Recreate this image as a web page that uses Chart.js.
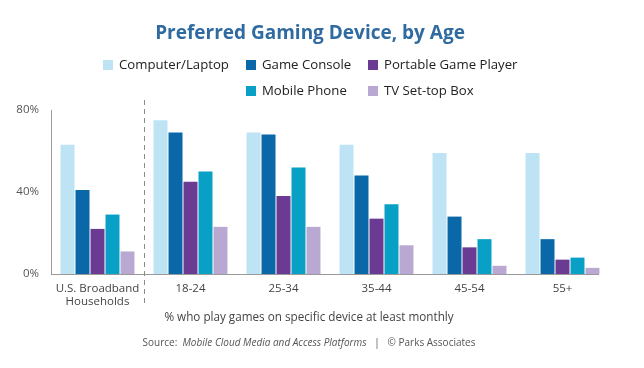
<!DOCTYPE html>
<html>
<head>
<meta charset="utf-8">
<script src="https://cdn.jsdelivr.net/npm/chart.js@4"></script>
<style>
  html, body { margin: 0; padding: 0; background: #fff; }
  #wrap { width: 644px; height: 368px; }
</style>
</head>
<body>
<div id="wrap"><canvas id="chart" width="644" height="368"></canvas></div>
<script>
// data (percent of each group)
const categories = [["U.S. Broadband", "Households"], "18-24", "25-34", "35-44", "45-54", "55+"];
const seriesNames = ["Computer/Laptop", "Game Console", "Portable Game Player", "Mobile Phone", "TV Set-top Box"];
const computerLaptop = [63, 75, 69, 63, 59, 59];
const gameConsole    = [41, 69, 68, 48, 28, 17];
const portablePlayer = [22, 45, 38, 27, 13, 7];
const mobilePhone    = [29, 50, 52, 34, 17, 8];
const tvSetTopBox    = [11, 23, 23, 14, 4, 3];
const yTickValues = [0, 40, 80];

const colors = ["#bde3f4", "#0a68a8", "#6b3a92", "#08a0c4", "#b9a9d2"];
const FONT = "'Open Sans', 'Noto Sans', sans-serif";

// legend grid: [column, row] for each series
const legendCols = [103, 246, 368];
const legendRows = [65, 91];
const legendSlots = [[0, 0], [1, 0], [2, 0], [1, 1], [2, 1]];

const decor = {
  id: "decor",
  afterDraw(chart) {
    const ctx = chart.ctx, x = chart.scales.x, a = chart.chartArea;
    ctx.save();

    // x axis line, stops at the end of the last bar
    const lastMeta = chart.getDatasetMeta(chart.data.datasets.length - 1);
    const lastBar = lastMeta.data[lastMeta.data.length - 1];
    const xEnd = Math.round(lastBar.x + lastBar.width / 2);
    ctx.strokeStyle = "#9a9a9a";
    ctx.lineWidth = 1;
    ctx.beginPath();
    ctx.moveTo(a.left, Math.round(a.bottom) + 0.5);
    ctx.lineTo(xEnd, Math.round(a.bottom) + 0.5);
    ctx.stroke();

    // title
    ctx.font = `bold 19px ${FONT}`;
    ctx.fillStyle = "#2f6aa1";
    ctx.textAlign = "center";
    ctx.textBaseline = "middle";
    ctx.fillText("Preferred Gaming Device, by Age", 310, 34);

    // legend
    ctx.font = `13.2px ${FONT}`;
    ctx.textAlign = "left";
    chart.data.datasets.forEach((ds, i) => {
      const [c, r] = legendSlots[i];
      const lx = legendCols[c], ly = legendRows[r];
      ctx.fillStyle = ds.backgroundColor;
      ctx.fillRect(lx, ly - 5, 10, 10);
      ctx.fillStyle = "#222";
      ctx.fillText(ds.label, lx + 16, ly);
    });

    // dashed divider between households and age groups
    const div = Math.round((x.getPixelForTick(0) + x.getPixelForTick(1)) / 2) + 0.5;
    ctx.strokeStyle = "#8a8a8a";
    ctx.setLineDash([5, 4]);
    ctx.beginPath();
    ctx.moveTo(div, 100);
    ctx.lineTo(div, 304);
    ctx.stroke();
    ctx.setLineDash([]);

    // axis caption
    ctx.font = `11.7px ${FONT}`;
    ctx.fillStyle = "#444";
    ctx.textAlign = "center";
    ctx.fillText("% who play games on specific device at least monthly", 309, 318);

    // source line, mixed styles
    const parts = [
      ["Source:  ", `10px ${FONT}`],
      ["Mobile Cloud Media and Access Platforms", `italic 10px ${FONT}`],
      ["   |   \u00A9 Parks Associates", `10px ${FONT}`]
    ];
    let total = 0;
    parts.forEach(p => { ctx.font = p[1]; total += ctx.measureText(p[0]).width; });
    let sx = 309 - total / 2;
    ctx.textAlign = "left";
    ctx.fillStyle = "#555";
    parts.forEach(p => {
      ctx.font = p[1];
      ctx.fillText(p[0], sx, 343);
      sx += ctx.measureText(p[0]).width;
    });

    ctx.restore();
  }
};

const series = [computerLaptop, gameConsole, portablePlayer, mobilePhone, tvSetTopBox];

new Chart(document.getElementById("chart"), {
  type: "bar",
  data: {
    labels: categories,
    datasets: series.map((d, i) => ({
      label: seriesNames[i],
      data: d,
      backgroundColor: colors[i],
      borderWidth: 0
    }))
  },
  options: {
    responsive: false,
    animation: false,
    devicePixelRatio: 1,
    layout: { padding: { top: 110, right: 35, bottom: 0, left: 0 } },
    datasets: { bar: { categoryPercentage: 0.806, barPercentage: 0.933 } },
    plugins: {
      legend: { display: false },
      title: { display: false },
      tooltip: { enabled: false }
    },
    scales: {
      x: {
        grid: { display: false, drawTicks: false },
        border: { display: false },
        ticks: {
          font: { family: FONT, size: 11.5, lineHeight: 1.15 },
          color: "#444",
          padding: 8,
          maxRotation: 0,
          autoSkip: false
        },
        afterFit: s => { s.height = 94; }
      },
      y: {
        min: 0,
        max: 80,
        afterBuildTicks: s => { s.ticks = yTickValues.map(v => ({ value: v })); },
        grid: { display: false, drawTicks: false },
        border: { color: "#9a9a9a", width: 1 },
        ticks: {
          font: { family: FONT, size: 11.5 },
          color: "#555",
          padding: 12,
          callback: v => v + "%"
        },
        afterFit: s => { s.width = 51; }
      }
    }
  },
  plugins: [decor]
});
</script>
</body>
</html>
